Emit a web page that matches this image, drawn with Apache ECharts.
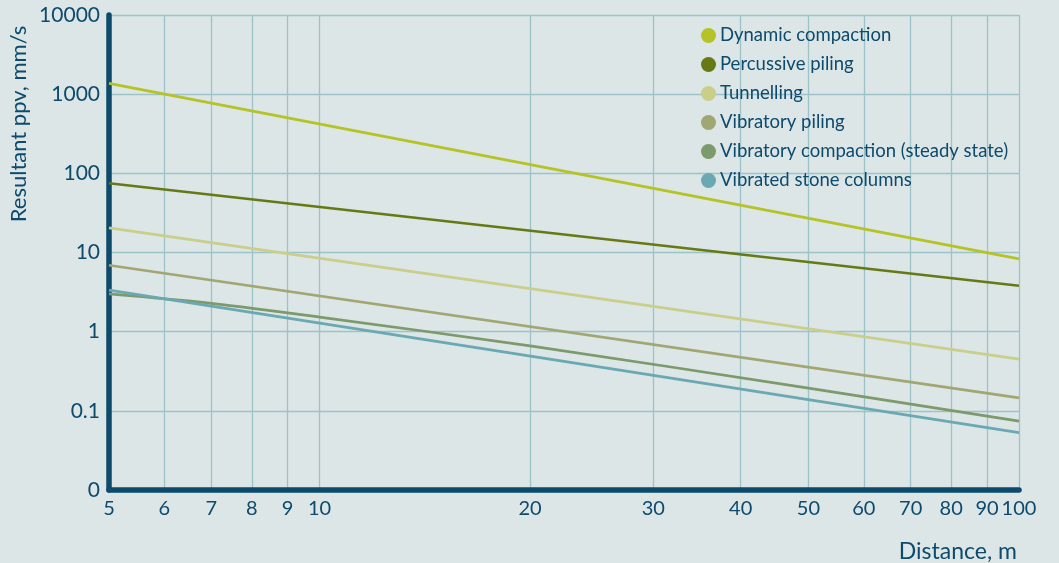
<!DOCTYPE html>
<html>
<head>
<meta charset="utf-8">
<script src="https://cdn.jsdelivr.net/npm/echarts@6/dist/echarts.min.js"></script>
<style>
  html, body { margin: 0; padding: 0; background: #dce6e7; }
  #chart { width: 1059px; height: 563px; }
</style>
</head>
<body>
<div id="chart"></div>
<script>
// Distances (m) at which the straight attenuation lines are given
const distances = [5, 100];
// The steady-state compaction curve bends, so it is given at more distances
const compactionDistances = [5, 7, 10, 20, 50, 100];

// Resultant ppv (mm/s) for each source
const dynamicCompaction = [1370, 8.3];
const percussivePiling = [75, 3.8];
const tunnelling = [20.5, 0.45];
const vibratoryPiling = [6.9, 0.146];
const vibratoryCompaction = [3.0, 2.28, 1.53, 0.66, 0.194, 0.074];
const vibratedStoneColumns = [3.35, 0.053];

const seriesNames = [
  'Dynamic compaction',
  'Percussive piling',
  'Tunnelling',
  'Vibratory piling',
  'Vibratory compaction (steady state)',
  'Vibrated stone columns'
];
const seriesDistances = [
  distances, distances, distances, distances, compactionDistances, distances
];
const seriesValues = [
  dynamicCompaction, percussivePiling, tunnelling,
  vibratoryPiling, vibratoryCompaction, vibratedStoneColumns
];
const seriesColors = ['#b5c326', '#667914', '#c9cf8b', '#a1a672', '#7c9a6b', '#6aa8b2'];

// Tick positions along the distance axis
const xTicks = [5, 6, 7, 8, 9, 10, 20, 30, 40, 50, 60, 70, 80, 90, 100];

const ink = '#0d4a6b';
const gridColor = '#9dc3c8';
const font = 'Lato';

const chart = echarts.init(document.getElementById('chart'));
chart.setOption({
  backgroundColor: '#dce6e7',
  animation: false,
  textStyle: { fontFamily: font },
  grid: {
    left: 109, right: 40, top: 15, bottom: 73,
    containLabel: false, outerBoundsMode: 'none'
  },
  graphic: [{
    // y-axis title, written upward beside the top of the axis
    type: 'text',
    x: 19,
    y: 124,
    rotation: Math.PI / 2,
    style: {
      text: 'Resultant ppv, mm/s',
      fill: ink,
      font: '22px Lato',
      align: 'center',
      verticalAlign: 'middle'
    }
  }, {
    // x-axis title under the right end of the axis
    type: 'text',
    x: 1017,
    y: 552,
    style: {
      text: 'Distance, m',
      fill: ink,
      font: '23px Lato',
      align: 'right',
      verticalAlign: 'middle'
    }
  }],
  legend: {
    orient: 'vertical',
    left: 696,
    top: 21,
    icon: 'circle',
    itemWidth: 15,
    itemHeight: 15,
    itemGap: 10,
    textStyle: {
      color: ink, fontSize: 18.5, lineHeight: 19, fontFamily: font,
      padding: [0, 0, 0, -1]
    },
    data: seriesNames
  },
  xAxis: {
    type: 'log',
    logBase: 10,
    min: 5,
    max: 100,
    axisLine: { show: true, lineStyle: { color: ink, width: 5.5, cap: 'round' } },
    axisTick: { show: false, customValues: xTicks },
    axisLabel: {
      color: ink, fontSize: 20, fontFamily: font, margin: 9,
      customValues: xTicks,
      formatter: v => String(Math.round(v))
    },
    splitLine: { show: true, lineStyle: { color: gridColor, width: 1.3 } }
  },
  yAxis: {
    type: 'log',
    logBase: 10,
    min: 0.01,
    max: 10000,
    axisLine: { show: true, lineStyle: { color: ink, width: 5.5, cap: 'round' } },
    axisTick: { show: false },
    axisLabel: {
      color: ink, fontSize: 21, fontFamily: font, margin: 9,
      formatter: v => (v <= 0.011 ? '0' : String(+v.toPrecision(3)))
    },
    splitLine: { show: true, lineStyle: { color: gridColor, width: 1.3 } }
  },
  series: seriesNames.map((name, i) => ({
    name,
    type: 'line',
    data: seriesDistances[i].map((d, j) => [d, seriesValues[i][j]]),
    showSymbol: false,
    symbol: 'circle',
    smooth: seriesDistances[i].length > 2 ? 0.3 : false,
    itemStyle: { color: seriesColors[i] },
    lineStyle: { color: seriesColors[i], width: 2.7 },
    z: 3
  }))
});
</script>
</body>
</html>
